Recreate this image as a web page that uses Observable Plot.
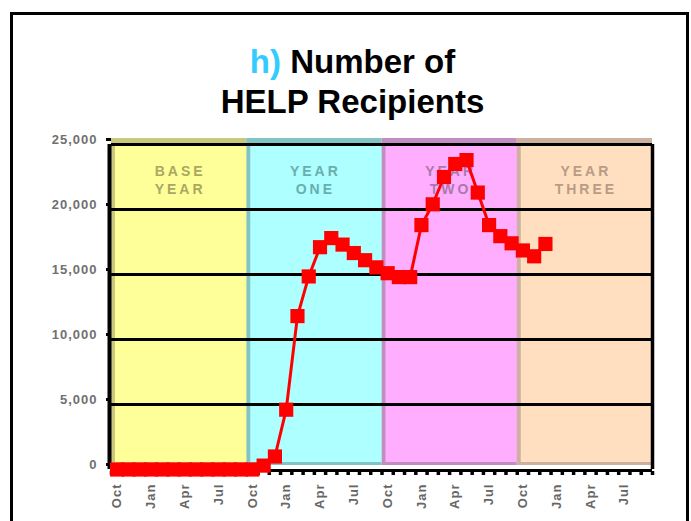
<!DOCTYPE html>
<html><head><meta charset="utf-8">
<script src="https://cdn.jsdelivr.net/npm/d3@7"></script>
<script src="https://cdn.jsdelivr.net/npm/@observablehq/plot@0.6"></script>
<style>
body{margin:0;background:#fff;width:691px;height:521px;overflow:hidden;position:relative;font-family:"Liberation Sans",Arial,sans-serif;}
#frame{position:absolute;left:10px;top:12px;width:679px;height:540px;border:3px solid #000;box-sizing:border-box;}
#title{position:absolute;left:0;width:705px;top:42px;text-align:center;font-size:33px;font-weight:bold;line-height:40px;color:#000;}
#title .h{color:#33ccff;}
#chart{position:absolute;left:0;top:130px;}
</style></head><body>
<div id="frame"></div>
<div id="title"><span class="h">h)</span> Number of<br>HELP Recipients</div>
<div id="chart"></div>
<script>
// Monthly number of HELP recipients, starting Oct of the base year
const recipients = [0,0,0,0,0,0,0,0,0,0,0,0,0,300,1000,4600,11800,14850,17100,17800,17300,16650,16100,15550,15100,14800,14800,18800,20400,22500,23500,23800,21300,18800,17950,17400,16850,16400,17350];
const tickLabels = ["Oct","Jan","Apr","Jul","Oct","Jan","Apr","Jul","Oct","Jan","Apr","Jul","Oct","Jan","Apr","Jul"];
const gridValues = [0,5000,10000,15000,20000,25000];
const bandNames = ["BASE\nYEAR","YEAR\nONE","YEAR\nTWO","YEAR\nTHREE"];
const bandFill = ["#ffff99","#aeffff","#ffaeff","#ffdfbf"];
const bandEdge = ["#c9c87c","#82c3c3","#c28ec2","#cdb09e"];
const bandText = ["#a9a862","#6aaeae","#ad78ad","#b89c86"];

const months = recipients.map((v,i)=>({m:i+0.5, v}));
const bands = bandNames.map((name,i)=>({x1:12*i, x2:12*i+12, name, fill:bandFill[i], edge:bandEdge[i], text:bandText[i]}));
const labelTicks = tickLabels.map((t,i)=>3*i+0.5);
const monthTicks = d3.range(0,49);

const chart = Plot.plot({
  width: 691, height: 391,
  marginLeft: 111, marginRight: 39, marginTop: 14, marginBottom: 52,
  x: {domain:[0,48]},
  y: {domain:[0,25000]},
  color: {type:"identity"},
  style: {fontFamily: "Liberation Sans, Arial, sans-serif", background: "transparent", overflow: "visible"},
  marks: [
    Plot.rect(bands, {x1:"x1", x2:"x2", y1:0, y2:25000, fill:"edge", insetTop:-6, insetBottom:4}),
    Plot.rect(bands, {x1:"x1", x2:"x2", y1:0, y2:25000, fill:"fill", insetTop:-1, insetBottom:7, insetLeft:4}),
    Plot.text(bands, {x: d=>(d.x1+d.x2)/2, y: 22350, text:"name", fill:"text", fontSize:14, fontWeight:"bold", lineHeight:1.35, dx:1}),
    Plot.ruleY(gridValues.slice(1), {stroke:"black", strokeWidth:3}),
    Plot.ruleY([0], {stroke:"black", strokeWidth:3, dy:1}),
    Plot.ruleX([0], {stroke:"black", strokeWidth:4, dx:-2}),
    Plot.ruleX([48], {stroke:"black", strokeWidth:3.5}),
    Plot.axisY({ticks: gridValues, tickFormat: d3.format(","), tickSize:5, tickPadding:9, stroke:"black", strokeWidth:3, fill:"#707070", fontSize:13, fontWeight:"bold", dy:-5, label:null}),
    Plot.axisX({ticks: monthTicks, tickSize:4, tickFormat: () => "", stroke:"black", strokeWidth:3.5, dy:2, label:null}),
    Plot.axisX({ticks: labelTicks, tickSize:0, tickFormat: d => tickLabels[Math.round((d-0.5)/3)], tickRotate:-90, tickPadding:14, fill:"#666", fontSize:13, fontWeight:"bold", label:null}),
    Plot.line(months, {x:"m", y:"v", stroke:"red", strokeWidth:3}),
    Plot.dot(months, {x:"m", y:"v", symbol:"square", r:8, fill:"red"})
  ]
});
d3.select(chart).selectAll('g[aria-label="y-axis tick label"] text').attr("letter-spacing","1px");
d3.select(chart).selectAll('g[aria-label="x-axis tick label"] text').attr("letter-spacing","1px");
d3.select(chart).selectAll('g[aria-label="text"] text').attr("letter-spacing","3px");
document.getElementById("chart").appendChild(chart);
</script>
</body></html>
